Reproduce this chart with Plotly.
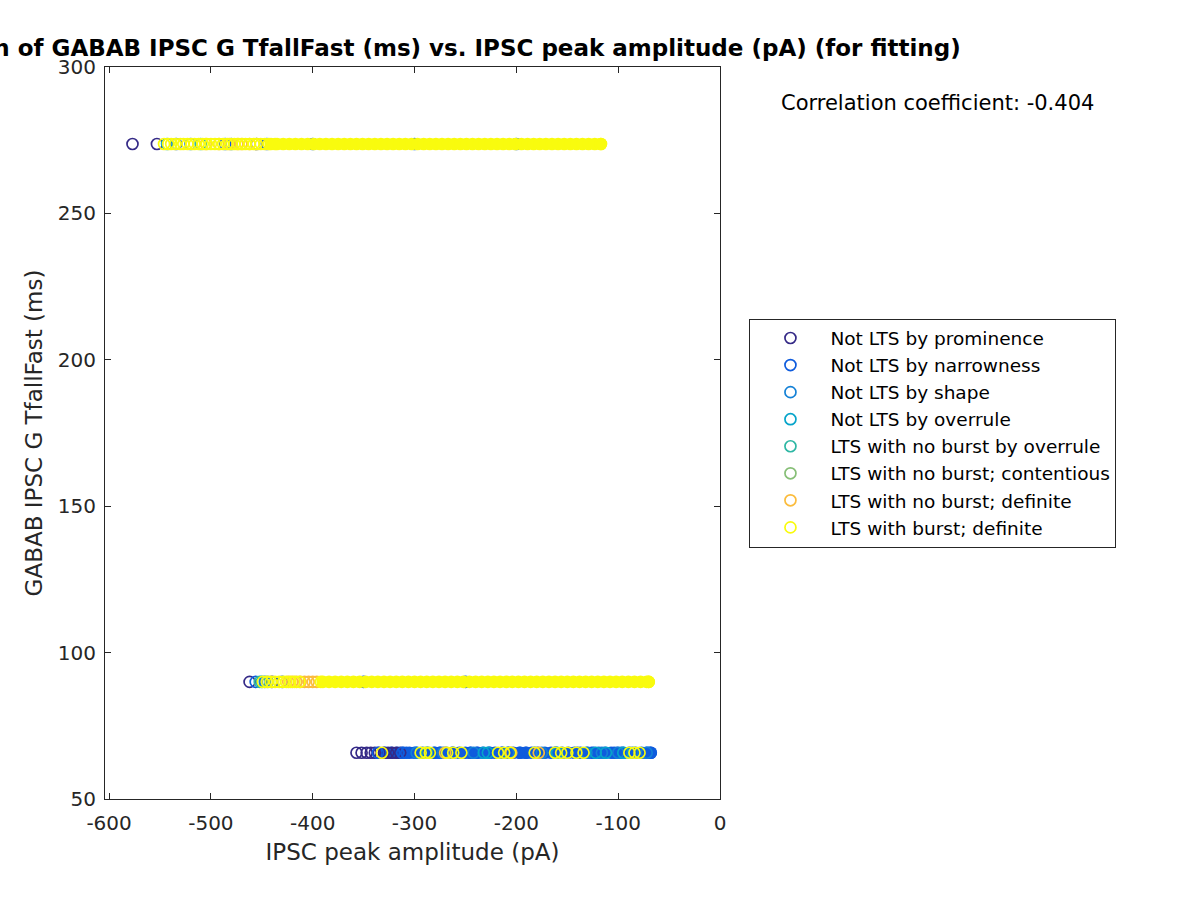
import plotly.graph_objects as go

# ---------------- data ----------------
Y_TOP, Y_MID, Y_BOT = 273.7, 90.0, 65.8

categories = [
    "Not LTS by prominence",
    "Not LTS by narrowness",
    "Not LTS by shape",
    "Not LTS by overrule",
    "LTS with no burst by overrule",
    "LTS with no burst; contentious",
    "LTS with no burst; definite",
    "LTS with burst; definite",
]
colors = ["#352A87", "#0F5CDD", "#1481D6", "#06A4CA",
          "#2EB7A4", "#87BF77", "#FBBC3D", "#F9FB0E"]

# x values (pA) per category, for the three TfallFast levels (top / middle / bottom)
prom_top = [-577, -553, -455]
prom_mid = [-462, -440]
prom_bot = [-357, -352, -347, -343, -339, -335, -330, -326, -322, -318, -314]

narrow_top = [-534, -486, -445, -400, -300, -200]
narrow_mid = [-456, -430, -350, -250]
narrow_bot = [-336, -312, -308, -300, -280, -275, -262, -245, -238, -226, -214,
              -196, -190, -182, -162, -140, -126, -104, -97, -70, -68]
# densely packed narrowness points forming the solid bottom band
narrow_bot_dense = [-329, -323, -317, -311, -305, -298, -292, -287, -281, -275,
                    -269, -263, -256, -250, -245, -239, -233, -227, -221, -214,
                    -208, -203, -197, -191, -185, -179, -172, -166, -161, -155,
                    -149, -143, -137, -130, -124, -119, -113, -107, -101, -95,
                    -89, -83, -77, -72, -68]

shape_top = [-520, -480]
shape_mid = [-447]
shape_bot = [-298, -272, -242, -208, -175, -131, -116, -100, -86, -72]

overr_top = [-543]
overr_mid = [-450]
overr_bot = [-232, -228, -160, -122, -112, -95]

nbover_top = [-510]
nbover_mid = [-452]
nbover_bot = [-288]

content_top = []
content_mid = [-444]
content_bot = []

nbdef_top = [-505, -492, -482, -474, -470, -462]
nbdef_mid = [-424, -420, -416, -412, -408, -404, -400, -396]
nbdef_bot = [-270, -205, -178]

burst_top = [-546, -542, -539, -535, -530, -527, -523, -519, -516, -512, -508,
             -504, -500, -496, -492, -488, -484, -480, -477, -473, -469, -466,
             -462, -458, -455, -451, -447, -443, -437, -117]
burst_mid = [-449, -445, -441, -437, -433, -429, -426, -422, -418, -413, -392,
             -70]
burst_bot = [-332, -294, -289, -285, -268, -262, -254, -218, -212, -206, -182,
             -162, -156, -150, -141, -134, -89, -84, -79]
# densely packed burst points forming the solid yellow bands
burst_top_dense = [-441, -435, -429, -423, -417, -411, -405, -399, -393, -387,
                   -381, -375, -369, -363, -357, -351, -345, -339, -333, -327,
                   -321, -315, -309, -303, -297, -291, -285, -279, -273, -267,
                   -261, -255, -249, -243, -237, -231, -225, -219, -213, -207,
                   -201, -195, -189, -183, -177, -171, -165, -159, -153, -147,
                   -141, -135, -129, -123, -117]
burst_mid_dense = [-390, -384, -378, -372, -366, -360, -354, -348, -342, -336,
                   -330, -324, -318, -312, -306, -300, -294, -288, -282, -276,
                   -270, -264, -258, -252, -246, -240, -234, -228, -222, -216,
                   -210, -204, -198, -192, -186, -180, -174, -168, -162, -156,
                   -150, -144, -138, -132, -126, -120, -114, -108, -102, -96,
                   -90, -84, -78, -72, -70]

series = [
    (prom_top, prom_mid, prom_bot),
    (narrow_top, narrow_mid, narrow_bot),
    (shape_top, shape_mid, shape_bot),
    (overr_top, overr_mid, overr_bot),
    (nbover_top, nbover_mid, nbover_bot),
    (content_top, content_mid, content_bot),
    (nbdef_top, nbdef_mid, nbdef_bot),
    (burst_top, burst_mid, burst_bot),
]

x_ticks = [-600, -500, -400, -300, -200, -100, 0]
x_ticktext = ["-600", "-500", "-400", "-300", "-200", "-100", "0"]
y_ticks = [50, 100, 150, 200, 250, 300]

title_text = ("Correlation of GABAB IPSC G TfallFast (ms) vs. "
              "IPSC peak amplitude (pA) (for fitting)")
corr_text = "Correlation coefficient: -0.404"

# ---------------- figure ----------------
FONT = "DejaVu Sans"
MSIZE = 11
MLINE = 1.7
DENSE = 12.7

def ys(top, mid, bot):
    return [Y_TOP] * len(top) + [Y_MID] * len(mid) + [Y_BOT] * len(bot)

fig = go.Figure()

# solid blue band under everything
fig.add_trace(go.Scatter(
    x=narrow_bot_dense, y=[Y_BOT] * len(narrow_bot_dense), mode="markers",
    marker=dict(symbol="circle", size=DENSE, color=colors[1], line=dict(width=0)),
    showlegend=False, hoverinfo="skip"))

for i, (name, col, (t, m, b)) in enumerate(zip(categories, colors, series)):
    if i == len(categories) - 1:
        # solid yellow bands drawn before the yellow rings
        fig.add_trace(go.Scatter(
            x=burst_top_dense + burst_mid_dense,
            y=[Y_TOP] * len(burst_top_dense) + [Y_MID] * len(burst_mid_dense),
            mode="markers",
            marker=dict(symbol="circle", size=DENSE, color=col, line=dict(width=0)),
            showlegend=False, hoverinfo="skip"))
    fig.add_trace(go.Scatter(
        x=t + m + b, y=ys(t, m, b), mode="markers", name=name,
        marker=dict(symbol="circle-open", size=MSIZE, color=col,
                    line=dict(width=MLINE, color=col))))

L, R, T, B = 104.5, 720.5, 67, 799
W, H = 1200, 900
pw, ph = R - L, B - T

def px(xp):
    return (xp - L) / pw

def py(yp):
    return (B - yp) / ph

axis_common = dict(
    showline=True, linecolor="#262626", linewidth=1, mirror="ticks",
    ticks="inside", ticklen=6, tickwidth=1, tickcolor="#262626",
    showgrid=False, zeroline=False,
    tickfont=dict(family=FONT, size=20, color="#262626"),
)

fig.update_layout(
    width=W, height=H, autosize=False,
    margin=dict(l=L, r=W - R, t=T, b=H - B, pad=0),
    paper_bgcolor="white", plot_bgcolor="white",
    font=dict(family=FONT, color="#262626"),
    title=dict(text="<b>" + title_text + "</b>", x=412.5 / W, xanchor="center",
               xref="container", yref="container", y=1 - 48 / H, yanchor="middle",
               font=dict(family=FONT, size=23, color="#000000")),
    xaxis=dict(range=[-604, 0], tickvals=x_ticks, ticktext=x_ticktext,
               title=dict(text="IPSC peak amplitude (pA)", standoff=9,
                          font=dict(family=FONT, size=23, color="#262626")),
               ticklabelstandoff=6, **axis_common),
    yaxis=dict(range=[50, 300], tickvals=y_ticks,
               title=dict(text="GABAB IPSC G TfallFast (ms)", standoff=8,
                          font=dict(family=FONT, size=23, color="#262626")),
               ticklabelstandoff=4, **axis_common),
    legend=dict(x=px(750), y=py(433), xanchor="left", yanchor="middle",
                bordercolor="#262626", borderwidth=1, bgcolor="white",
                font=dict(family=FONT, size=18.5, color="#000000"),
                itemwidth=70, tracegroupgap=0),
    annotations=[dict(text=corr_text, x=px(938), y=py(103), xref="paper",
                      yref="paper", xanchor="center", yanchor="middle",
                      showarrow=False,
                      font=dict(family=FONT, size=21, color="#000000"))],
)

fig.write_html("out.html")
